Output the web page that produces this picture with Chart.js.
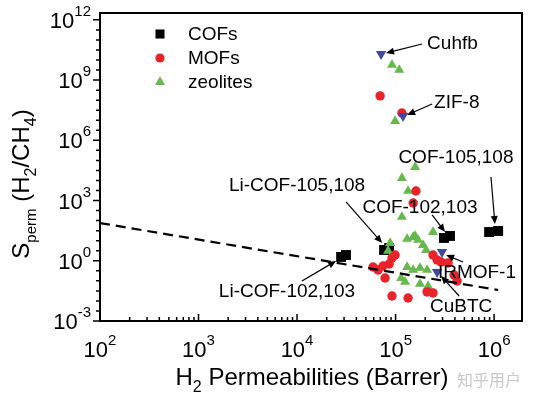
<!DOCTYPE html>
<html>
<head>
<meta charset="UTF-8">
<title>H2/CH4 selectivity vs H2 permeability</title>
<script src="https://cdn.jsdelivr.net/npm/chart.js@4.4.0/dist/chart.umd.min.js"></script>
<style>
html,body{margin:0;padding:0;background:#fff}
#box{position:relative;width:537px;height:398px}
</style>
</head>
<body>
<div id="box"><canvas id="c"></canvas></div>
<script>
/* values: H2 permeability (Barrer), S_perm H2/CH4 */
const cofX = [2.8e4, 3.14e4, 7.64e4, 8.6e4, 3.1e5, 3.57e5, 8.9e5, 1.1e6];
const cofY = [1.55, 1.94, 3.45, 4.34, 13.7, 17.2, 27, 30.5];

const mofX = [6.97e4, 1.16e5, 1.61e5, 1.51e5, 5.9e4, 6.64e4, 7.46e4, 8.6e4, 9.2e4, 9.9e4, 7.82e4,
              9.2e4, 1.34e5, 2.4e5, 2.64e5, 2.9e5, 3.41e5, 3.93e5, 4.21e5, 2.09e5, 2.4e5];
const mofY = [1.63e8, 2.3e7, 3000, 757, 0.49, 0.35, 0.55, 0.69, 1.38, 1.94, 0.139,
              0.0176, 0.014, 1.94, 1.09, 0.87, 0.78, 0.196, 0.098, 0.028, 0.025];

const namedMofs = ['Cuhfb', 'ZIF-8', 'IRMOF-1', 'CuBTC'];
const namedX = [7.13e4, 1.19e5, 2.96e5, 2.64e5];
const namedY = [2.0e10, 1.64e7, 2.74, 0.276];

const zeoX = [9.2e4, 1.09e5, 9.9e4, 1.58e5, 1.16e5, 1.34e5, 1.16e5, 2.4e5, 1.58e5, 8.8e4, 8.4e4, 1.31e5,
              1.51e5, 1.69e5, 1.9e5, 2.04e5, 1.31e5, 1.51e5, 1.77e5, 2.09e5, 1.14e5, 1.25e5, 1.77e5, 2.14e5];
const zeoY = [5.7e9, 3.2e9, 9.2e6, 4.7e4, 1.33e4, 3000, 152, 27, 17.2, 7.7, 3.1, 12.2,
              15.3, 10.9, 6.1, 3.45, 0.49, 0.35, 0.44, 0.35, 0.139, 0.088, 0.07, 0.055];

const boundX = [100, 1.1e6];
const boundY = [76, 0.035];

const xLabelExp = [2, 3, 4, 5, 6];
const yLabelExp = [-3, 0, 3, 6, 9, 12];

const legendNames = ['COFs', 'MOFs', 'zeolites'];

/* label text anchor, arrow tail and arrow head, all in data units */
const notes = [
  {text:'Cuhfb',          at:[2.09e5, 6.3e10], align:'left',   from:[1.86e5, 6.3e10], to:[8.0e4, 2.25e10]},
  {text:'ZIF-8',          at:[2.46e5, 7.3e7],  align:'left',   from:[2.35e5, 6.5e7],  to:[1.31e5, 1.84e7]},
  {text:'COF-105,108',    at:[4.1e5, 1.32e5],  align:'center', from:[9.3e5, 1.5e4],   to:[1.02e6, 68]},
  {text:'Li-COF-105,108', at:[1.0e4, 5300],    align:'center', from:[3.14e4, 850],    to:[7.3e4, 7.7]},
  {text:'COF-102,103',    at:[1.77e5, 427],    align:'center', from:[2.35e5, 191],    to:[3.18e5, 27]},
  {text:'Li-COF-102,103', at:[7.9e3, 0.028],   align:'center', from:[1.12e4, 0.098],  to:[2.49e4, 0.98]},
  {text:'IRMOF-1',        at:[6.7e5, 0.246],   align:'center', from:[4.84e5, 0.87],   to:[3.26e5, 1.94]},
  {text:'CuBTC',          at:[4.63e5, 0.005],  align:'center', from:[4.42e5, 0.0176], to:[2.9e5, 0.175]}
];

const FONT = 'Arial, "Liberation Sans", Helvetica, sans-serif';
const RED = '#e8232a', GREEN = '#66b94d', BLUE = '#3e4a9e';

const pts = (xs, ys) => xs.map((x, i) => ({x: x, y: ys[i]}));

function runs(ctx, parts, x, y, align){
  // parts: [text, fontPx, dy]
  let w = 0;
  parts.forEach(p => { ctx.font = p[1] + 'px ' + FONT; w += ctx.measureText(p[0]).width; });
  let cx = align === 'center' ? x - w/2 : (align === 'right' ? x - w : x);
  ctx.textAlign = 'left';
  parts.forEach(p => {
    ctx.font = p[1] + 'px ' + FONT;
    ctx.fillText(p[0], cx, y + p[2]);
    cx += ctx.measureText(p[0]).width;
  });
}

function arrow(ctx, x0, y0, x1, y1){
  const a = Math.atan2(y1 - y0, x1 - x0), L = 8, H = 3.5;
  ctx.beginPath();
  ctx.moveTo(x0, y0);
  ctx.lineTo(x1 - Math.cos(a)*L*0.6, y1 - Math.sin(a)*L*0.6);
  ctx.stroke();
  ctx.beginPath();
  ctx.moveTo(x1, y1);
  ctx.lineTo(x1 - Math.cos(a)*L - Math.sin(a)*H, y1 - Math.sin(a)*L + Math.cos(a)*H);
  ctx.lineTo(x1 - Math.cos(a)*L + Math.sin(a)*H, y1 - Math.sin(a)*L - Math.cos(a)*H);
  ctx.closePath();
  ctx.fill();
}

const decor = {
  id: 'decor',
  afterDatasetsDraw(chart){
    const {ctx, scales:{x, y}} = chart;
    ctx.save();
    ctx.fillStyle = '#000'; ctx.strokeStyle = '#000'; ctx.lineWidth = 1.2;
    ctx.textBaseline = 'middle';
    notes.forEach(n => {
      ctx.font = '19px ' + FONT;
      ctx.textAlign = n.align;
      ctx.fillText(n.text, x.getPixelForValue(n.at[0]), y.getPixelForValue(n.at[1]));
      arrow(ctx, x.getPixelForValue(n.from[0]), y.getPixelForValue(n.from[1]),
                 x.getPixelForValue(n.to[0]), y.getPixelForValue(n.to[1]));
    });
    ctx.restore();
  },
  afterDraw(chart){
    const {ctx, chartArea:a, scales:{x, y}} = chart;
    ctx.save();
    ctx.strokeStyle = '#000'; ctx.fillStyle = '#000';
    ctx.lineWidth = 2;
    ctx.strokeRect(a.left, a.top, a.right - a.left, a.bottom - a.top);

    // x ticks (inward)
    ctx.lineWidth = 1.5;
    ctx.beginPath();
    xLabelExp.forEach(e => {
      for (let m = 1; m <= 9; m++){
        const v = m * Math.pow(10, e);
        if (v > x.max) break;
        const px = x.getPixelForValue(v);
        ctx.moveTo(px, a.bottom);
        ctx.lineTo(px, a.bottom - (m === 1 ? 7 : 4));
      }
    });
    // y ticks (outward), every half decade
    for (let k = -6; k <= 25; k++){
      const v = Math.pow(10, k/2);
      if (v > y.max) break;
      const py = y.getPixelForValue(v);
      const major = k % 6 === 0;
      ctx.moveTo(a.left, py);
      ctx.lineTo(a.left - (major ? 7 : 4), py);
    }
    ctx.stroke();

    // tick labels
    ctx.textBaseline = 'alphabetic';
    xLabelExp.forEach(e => {
      runs(ctx, [['10', 22, 0], [String(e), 15, -12]], x.getPixelForValue(Math.pow(10, e)), a.bottom + 36, 'center');
    });
    yLabelExp.forEach(e => {
      runs(ctx, [['10', 22, 0], [String(e), 15, -12]], a.left - 9, y.getPixelForValue(Math.pow(10, e)) + 8, 'right');
    });

    // axis titles
    runs(ctx, [['H', 24, 0], ['2', 16, 7], [' Permeabilities (Barrer)', 24, 0]], 312, 385, 'center');
    ctx.translate(29, 184);
    ctx.rotate(-Math.PI/2);
    runs(ctx, [['S', 24, 0], ['perm', 15, 7], [' (H', 24, 0], ['2', 16, 7], ['/CH', 24, 0], ['4', 16, 7], [')', 24, 0]], 0, 0, 'center');
    ctx.setTransform(1, 0, 0, 1, 0, 0);

    // legend
    const ds = chart.data.datasets;
    ctx.textBaseline = 'middle';
    legendNames.forEach((name, i) => {
      const d = ds.find(s => s.label === name);
      const ly = a.top + 21 + i*24;
      ctx.fillStyle = d.backgroundColor; ctx.strokeStyle = d.backgroundColor;
      Chart.helpers.drawPoint(ctx, {pointStyle: d.pointStyle, radius: name === 'COFs' ? 6.4 : (name === 'MOFs' ? 4.6 : 5.8), rotation: 0, borderWidth: 0}, 160, ly);
      ctx.fillStyle = '#000';
      ctx.font = '19px ' + FONT;
      ctx.textAlign = 'left';
      ctx.fillText(name, 188, ly + 1);
    });

    // watermark
    ctx.fillStyle = '#c9c9c9';
    ctx.font = '16px "Noto Sans CJK SC", sans-serif';
    ctx.textAlign = 'left';
    ctx.fillText('知乎用户', 457, 380);
    ctx.restore();
  }
};

new Chart(document.getElementById('c'), {
  type: 'scatter',
  data: {
    datasets: [
      {label:'bound', type:'line', order:0, data: pts(boundX, boundY),
       borderColor:'#000', borderWidth:2.2, borderDash:[10,6], pointRadius:0, fill:false, tension:0},
      {label:'named MOFs', order:1, data: pts(namedX, namedY), pointStyle:'triangle', rotation:180,
       backgroundColor:BLUE, borderColor:BLUE, borderWidth:0, pointRadius:6},
      {label:'MOFs', order:2, data: pts(mofX, mofY), pointStyle:'circle',
       backgroundColor:RED, borderColor:RED, borderWidth:0, pointRadius:4.7},
      {label:'zeolites', order:3, data: pts(zeoX, zeoY), pointStyle:'triangle',
       backgroundColor:GREEN, borderColor:GREEN, borderWidth:0, pointRadius:5.8},
      {label:'COFs', order:4, data: pts(cofX, cofY), pointStyle:'rect',
       backgroundColor:'#000', borderColor:'#000', borderWidth:0, pointRadius:7}
    ]
  },
  options: {
    responsive: true,
    maintainAspectRatio: false,
    animation: false,
    events: [],
    layout: {padding: {left:100, top:13, right:15, bottom:77}},
    scales: {
      x: {type:'logarithmic', min:100, max:1.92e6, display:false},
      y: {type:'logarithmic', min:1e-3, max:2.2e12, display:false}
    },
    plugins: {legend:{display:false}, tooltip:{enabled:false}}
  },
  plugins: [decor]
});
</script>
</body>
</html>
